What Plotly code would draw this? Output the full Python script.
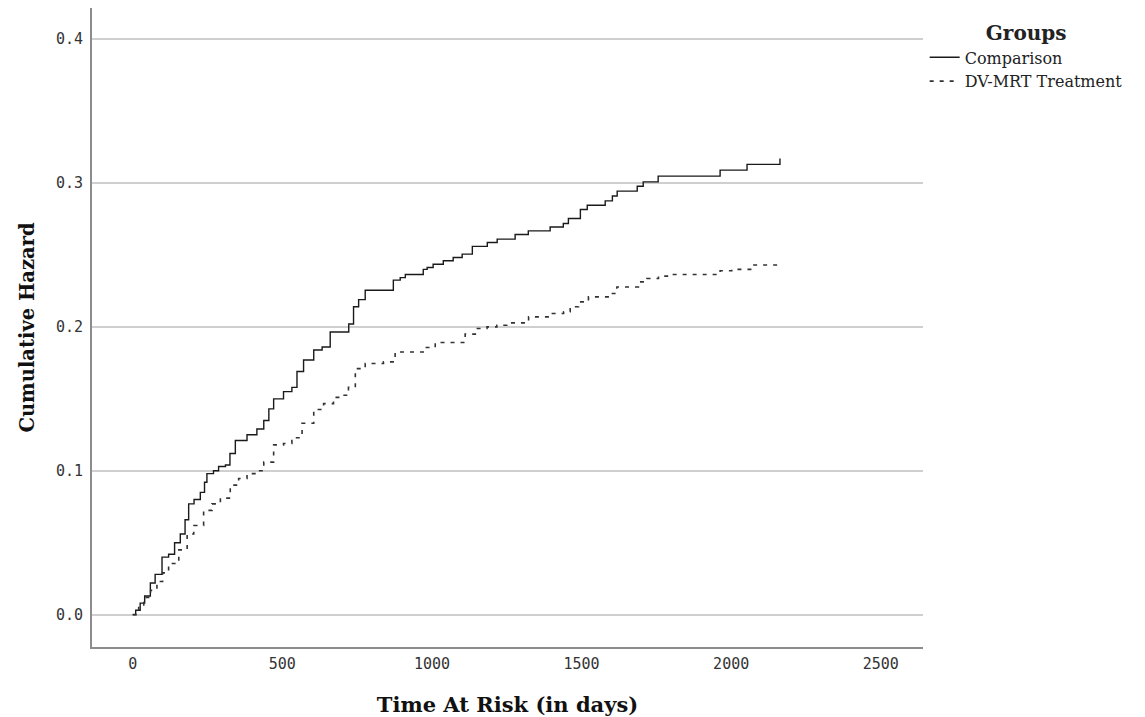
import plotly.graph_objects as go

# Comparison group: time (days) and cumulative hazard
comp_time = [0, 10, 25, 40, 59, 75, 98, 120, 140, 159, 175, 187, 205, 226, 240, 248,
             270, 287, 310, 325, 343, 382, 415, 438, 455, 471, 504, 532, 549, 571,
             605, 633, 660, 722, 738, 755, 777, 871, 894, 911, 971, 984, 1004, 1038,
             1071, 1101, 1135, 1185, 1218, 1278, 1322, 1395, 1439, 1456, 1496, 1519,
             1579, 1603, 1619, 1686, 1706, 1756, 1963, 2053, 2163]
comp_hazard = [0.0, 0.003, 0.008, 0.013, 0.022, 0.028, 0.040, 0.042, 0.050, 0.056,
               0.066, 0.077, 0.080, 0.085, 0.092, 0.098, 0.100, 0.103, 0.104, 0.112,
               0.121, 0.125, 0.129, 0.135, 0.143, 0.150, 0.155, 0.158, 0.169, 0.177,
               0.184, 0.186, 0.1965, 0.202, 0.214, 0.219, 0.2255, 0.2325, 0.2343,
               0.2364, 0.240, 0.2413, 0.2436, 0.246, 0.2483, 0.2506, 0.256, 0.2587,
               0.261, 0.2643, 0.2668, 0.2695, 0.2719, 0.2754, 0.2816, 0.2846, 0.2876,
               0.291, 0.2944, 0.2978, 0.3008, 0.3048, 0.309, 0.313, 0.317]

# DV-MRT Treatment group
trt_time = [0, 20, 37, 60, 81, 100, 120, 154, 182, 204, 237, 265, 293, 326, 354, 382,
            415, 438, 471, 504, 532, 566, 605, 638, 671, 694, 721, 744, 777, 838, 877,
            978, 1011, 1111, 1145, 1184, 1217, 1250, 1323, 1395, 1440, 1462, 1490,
            1523, 1596, 1618, 1690, 1718, 1757, 1790, 1963, 2002, 2073, 2163]
trt_hazard = [0.0, 0.005, 0.012, 0.017, 0.023, 0.029, 0.0355, 0.045, 0.056, 0.062,
              0.0725, 0.077, 0.081, 0.090, 0.0946, 0.098, 0.100, 0.106, 0.118, 0.119,
              0.123, 0.133, 0.1426, 0.1467, 0.151, 0.1525, 0.158, 0.171, 0.1746,
              0.1757, 0.1826, 0.1857, 0.1892, 0.195, 0.1989, 0.200, 0.2012, 0.2028,
              0.207, 0.2093, 0.2105, 0.214, 0.2174, 0.2209, 0.2232, 0.2278, 0.2313,
              0.2337, 0.2353, 0.2364, 0.239, 0.240, 0.243, 0.244]

x_ticks = [0, 500, 1000, 1500, 2000, 2500]
y_ticks = [0.0, 0.1, 0.2, 0.3, 0.4]
y_tick_labels = ["0.0", "0.1", "0.2", "0.3", "0.4"]

fig = go.Figure()
fig.add_trace(go.Scatter(x=comp_time, y=comp_hazard, mode="lines", name="Comparison",
                         line=dict(shape="hv", color="#1a1a1a", width=1.4)))
fig.add_trace(go.Scatter(x=trt_time, y=trt_hazard, mode="lines", name="DV-MRT Treatment",
                         line=dict(shape="hv", color="#333333", width=1.6, dash="4px,6px")))

# page has an 8px body margin, so the figure is sized 8px smaller
fig.update_layout(
    width=1137, height=709,
    margin=dict(l=84, r=222, t=0, b=70, autoexpand=False),
    paper_bgcolor="white", plot_bgcolor="white",
    showlegend=True,
    legend=dict(
        x=1.002, y=0.99, xanchor="left", yanchor="top",
        title=dict(text="<b>Groups</b>", side="top center",
                   font=dict(family="DejaVu Serif", size=20, color="#222")),
        font=dict(family="DejaVu Serif", size=16, color="#222"),
        tracegroupgap=0, itemwidth=30,
    ),
    xaxis=dict(
        range=[-136, 2641], tickvals=x_ticks, showgrid=False, zeroline=False,
        showline=True, linecolor="#8c8c8c", linewidth=2, ticks="",
        automargin=False,
        tickfont=dict(family="DejaVu Sans Mono", size=15, color="#333"),
        ticklabelstandoff=2,
        title=dict(text="<b>Time At Risk (in days)</b>", standoff=28,
                   font=dict(family="DejaVu Serif", size=21, color="#111")),
    ),
    yaxis=dict(
        range=[-0.0225, 0.4217], tickvals=y_ticks, ticktext=y_tick_labels,
        showgrid=True, gridcolor="#cfcfcf", gridwidth=1.5, zeroline=False,
        showline=True, linecolor="#8c8c8c", linewidth=2, ticks="",
        automargin=False,
        tickfont=dict(family="DejaVu Sans Mono", size=15, color="#333"),
        ticklabelstandoff=4,
        title=dict(text="<b>Cumulative Hazard</b>", standoff=16,
                   font=dict(family="DejaVu Serif", size=19.5, color="#111")),
    ),
)

fig.write_html("out.html")
